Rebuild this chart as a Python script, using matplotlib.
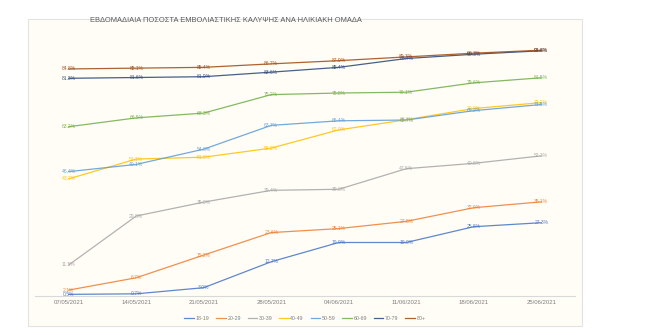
import matplotlib
matplotlib.use("Agg")
import matplotlib.pyplot as plt
from matplotlib.patches import Rectangle

plt.rcParams['font.family'] = ['Liberation Sans', 'DejaVu Sans']

dates = ["07/05/2021", "14/05/2021", "21/05/2021", "28/05/2021",
         "04/06/2021", "11/06/2021", "18/06/2021", "25/06/2021"]

age_groups = ["18-19", "20-29", "30-39", "40-49", "50-59", "60-69", "70-79", "80+"]

cov_18_19 = [0.5, 0.7, 3.0, 12.7, 19.9, 19.9, 25.8, 27.3]
cov_20_29 = [2.1, 6.7, 15.2, 23.6, 25.1, 27.8, 32.9, 35.1]
cov_30_39 = [11.5, 29.8, 35.0, 39.4, 39.8, 47.5, 49.5, 52.3]
cov_40_49 = [43.7, 51.1, 51.8, 55.2, 62.0, 65.8, 70.0, 72.2]
cov_50_59 = [46.4, 49.1, 54.8, 63.7, 65.4, 65.7, 69.2, 71.5]
cov_60_69 = [63.2, 66.5, 68.3, 75.2, 75.8, 76.1, 79.6, 81.5]
cov_70_79 = [81.3, 81.6, 81.9, 83.6, 85.4, 88.7, 90.3, 91.6]
cov_80_plus = [84.8, 85.1, 85.4, 86.7, 87.9, 89.3, 90.7, 91.8]

series = [cov_18_19, cov_20_29, cov_30_39, cov_40_49,
          cov_50_59, cov_60_69, cov_70_79, cov_80_plus]
colors = ["#4472C4", "#ED7D31", "#A5A5A5", "#FFC000",
          "#5B9BD5", "#70AD47", "#264478", "#9E480E"]

W, H = 664, 335
fig = plt.figure(figsize=(W / 100, H / 100), dpi=100)
fig.patch.set_facecolor("white")

# chart area box
fig.patches.append(Rectangle((28 / W, (H - 326) / H), 554 / W, 307 / H,
                             transform=fig.transFigure, facecolor="#FFFDF6",
                             edgecolor="#E3E3E3", linewidth=0.8, zorder=-10))

ax = fig.add_axes([35 / W, (H - 295.7) / H, 540 / W, 267.4 / H])
ax.set_facecolor("none")
ax.set_zorder(1)
x = list(range(len(dates)))

for name, vals, col in zip(age_groups, series, colors):
    ax.plot(x, vals, color=col, lw=0.9, alpha=0.85, label=name, zorder=2)
    for xi, v in zip(x, vals):
        ax.text(xi, v, f"{v:.1f}%", color=col, fontsize=3.6, ha="center",
                va="center", alpha=0.9, zorder=3)

ax.set_xlim(-0.5, len(dates) - 0.5)
ax.set_ylim(0, 100)
ax.set_xticks(x)
ax.set_xticklabels(dates, fontsize=4.3, color="#7F7F7F")
ax.tick_params(axis="x", length=0, pad=3)
ax.set_yticks([])
for s in ["top", "right", "left"]:
    ax.spines[s].set_visible(False)
ax.spines["bottom"].set_color("#D9D9D9")
ax.spines["bottom"].set_linewidth(0.8)

fig.text(90 / W, 1 - 21 / H, "ΕΒΔΟΜΑΔΙΑΙΑ ΠΟΣΟΣΤΑ ΕΜΒΟΛΙΑΣΤΙΚΗΣ ΚΑΛΥΨΗΣ ΑΝΑ ΗΛΙΚΙΑΚΗ ΟΜΑΔΑ",
         fontsize=5.4, color="#595959", ha="left", va="center")

handles, labels = ax.get_legend_handles_labels()
fig.legend(handles, labels, loc="center", bbox_to_anchor=(305 / W, 1 - 318 / H),
           ncol=8, fontsize=3.8, frameon=False, handlelength=1.8,
           columnspacing=1.3, handletextpad=0.3, labelcolor="#7F7F7F")

fig.savefig("out.png", dpi=100, facecolor="white")
